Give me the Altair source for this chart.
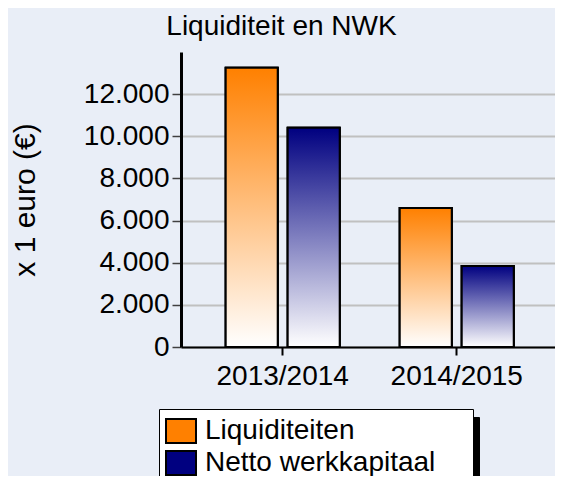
import altair as alt
import pandas as pd

years = ["2013/2014", "2014/2015"]
liquiditeiten = [13250, 6600]
netto_werkkapitaal = [10400, 3850]
series_names = ["Liquiditeiten", "Netto werkkapitaal"]
series_colors = ["#FF8000", "#000080"]
y_ticks = [0, 2000, 4000, 6000, 8000, 10000, 12000]

rows = []
for i, yr in enumerate(years):
    rows.append({"jaar": yr, "reeks": series_names[0], "waarde": liquiditeiten[i]})
    rows.append({"jaar": yr, "reeks": series_names[1], "waarde": netto_werkkapitaal[i]})
df = pd.DataFrame(rows)

FONT = "Liberation Sans"
FS = 28

x_enc = alt.X("jaar:N", sort=years, title=None,
              scale=alt.Scale(paddingInner=0.345, paddingOuter=0.247, align=0.52),
              axis=alt.Axis(labelAngle=0, domainColor="black", domainWidth=2,
                            tickColor="black", tickWidth=2, tickSize=8,
                            labelPadding=7, grid=False))
xo_enc = alt.XOffset("reeks:N", sort=series_names,
                     scale=alt.Scale(paddingInner=0.161, paddingOuter=0))
y_enc = alt.Y("waarde:Q", title="x 1 euro (€)",
              scale=alt.Scale(domain=[0, 14000], nice=False),
              axis=alt.Axis(values=y_ticks,
                            labelExpr="replace(format(datum.value, ','), ',', '.')",
                            grid=True, gridColor="#C0C0C0", gridWidth=2,
                            domainColor="black", domainWidth=3,
                            tickColor="#404040", tickWidth=1.5, tickSize=9,
                            labelPadding=3, titleFontSize=30,
                            titleAngle=-90, titleX=-147, titleBaseline="alphabetic"))

sym_path = "M-1.25,-1H1.25V1H-1.25Z"
# trailing spaces widen the legend box; a zero-width space keeps them from being trimmed
LABEL_PAD = "\u00a0\u00a0\u00a0\u2009\u200b"

def legend_props(**kw):
    common = dict(orient="none", title=None, padding=8, rowPadding=0, labelOffset=10,
                  symbolType=sym_path, symbolSize=576,
                  symbolStrokeColor="black", symbolStrokeWidth=2, symbolOpacity=1,
                  labelFont=FONT, labelFontSize=FS, labelColor="black", labelLimit=0,
                  labelExpr="datum.label + '" + LABEL_PAD + "'")
    common.update(kw)
    return alt.Legend(**common)

base = alt.Chart(df).encode(x=x_enc, xOffset=xo_enc, y=y_enc)

legend_layer = base.mark_bar(stroke="black", strokeWidth=2).encode(
    fill=alt.Fill("reeks:N", sort=series_names,
                  scale=alt.Scale(domain=series_names, range=series_colors),
                  legend=legend_props(legendX=-22, legendY=357,
                                      fillColor="white", strokeColor="black"))
)

# black box drawn behind the legend as its drop shadow (no labels, wide padding)
shadow = base.transform_calculate(schaduw="datum.reeks").mark_bar(
    stroke="black", strokeWidth=2
).encode(
    color=alt.Color("schaduw:N", sort=series_names,
                    scale=alt.Scale(range=["black", "black"]),
                    legend=legend_props(legendX=-16, legendY=365, padding=138,
                                        labelExpr="''",
                                        fillColor="black", strokeColor="black"))
)

def grad(top):
    return alt.Gradient(
        gradient="linear",
        stops=[alt.GradientStop(color=top, offset=0),
               alt.GradientStop(color="#FFFFFF", offset=1)],
        x1=0, x2=0, y1=0, y2=1,
    )

orange = base.transform_filter(alt.datum.reeks == series_names[0]).mark_bar(
    fill=grad(series_colors[0]), stroke="black", strokeWidth=2)
blue = base.transform_filter(alt.datum.reeks == series_names[1]).mark_bar(
    fill=grad(series_colors[1]), stroke="black", strokeWidth=2)

chart = alt.layer(shadow, legend_layer, orange, blue).properties(
    width=374, height=295,
    title=alt.Title("Liquiditeit en NWK", font=FONT, fontSize=FS, fontWeight="normal",
                    color="black", anchor="middle", dx=-86.5, dy=26,
                    baseline="alphabetic", offset=15),
    autosize=alt.AutoSizeParams(type="none"),
    padding={"left": 173, "top": 44, "right": 0, "bottom": 129},
    background="#E9EEF7",
).configure_view(stroke=None).configure_axis(
    labelFont=FONT, labelFontSize=FS, labelColor="black",
    titleFont=FONT, titleFontSize=FS, titleColor="black", titleFontWeight="normal",
)

chart.save("out.html", embed_options={"renderer": "svg", "actions": False})
